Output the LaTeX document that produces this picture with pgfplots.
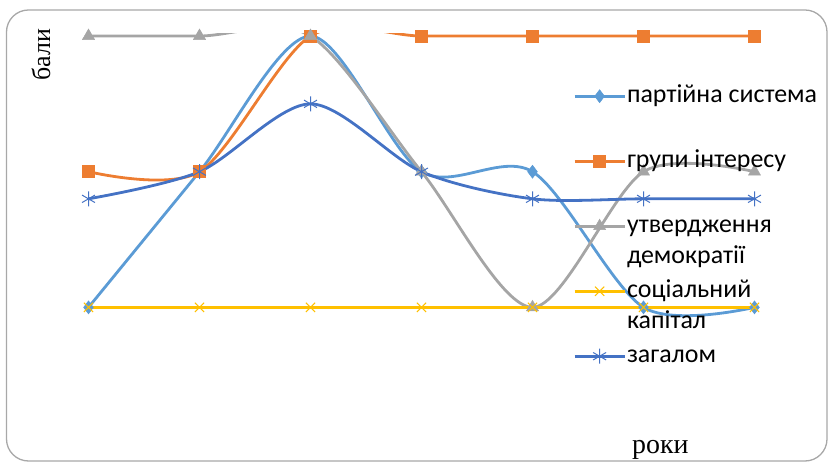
\documentclass[border=0pt]{standalone}
\usepackage{fontspec}
\setmainfont{Carlito}
\newfontfamily\serifcyr{Liberation Serif}
\usepackage{pgfplots}
\pgfplotsset{compat=1.18}
\definecolor{cA}{HTML}{5B9BD5}
\definecolor{cB}{HTML}{ED7D31}
\definecolor{cC}{HTML}{A5A5A5}
\definecolor{cD}{HTML}{FFC000}
\definecolor{cE}{HTML}{4472C4}
\definecolor{gridc}{HTML}{A8A8A8}
\pgfplotstableread{
x p g u s z
1 2 4 6 2 3.6
2 4 4 6 2 4
3 6 6 6 2 5
4 4 6 4 2 4
5 4 6 2 2 3.6
6 2 6 4 2 3.6
7 2 6 4 2 3.6
}\datatab
\newcommand{\legtext}[2]{\begin{tabular}[t]{@{}l@{}}#1\\#2\end{tabular}}
\begin{document}
\begin{tikzpicture}
\useasboundingbox (0,0) rectangle (831bp,464bp);
\draw[gridc, line width=1.3bp, rounded corners=22bp] (6.5bp,3bp) rectangle (827bp,454bp);
\begin{axis}[
  at={(33bp,21bp)}, anchor=south west,
  scale only axis, width=777bp, height=409bp,
  xmin=0.5, xmax=7.5, ymin=0, ymax=6.03,
  axis lines=none,
  xtick=\empty, ytick={0,1,2,3,4,5,6}, yticklabels={},
  tick style={draw=none},
  ymajorgrids, grid style={gridc, line width=1.3bp},
  every axis plot/.append style={smooth, tension=0.5, line width=2.8bp},
  legend style={draw=none, fill=none, at={(axis description cs:0.695,0.885)}, anchor=north west,
    font=\fontsize{26}{31}\selectfont, row sep=-1bp, inner sep=0pt,
    nodes={inner sep=1bp, anchor=base west, text height=20bp, text depth=44bp},
    /tikz/every even column/.append style={column sep=6bp}},
  legend cell align=left,
  legend image code/.code={\draw[mark repeat=2,mark phase=2, yshift=6bp] plot coordinates {(0bp,0bp) (25bp,0bp) (50bp,0bp)};},
]
\addplot[cA, mark=diamond*, mark size=6.5bp, mark options={solid, line width=0.5bp}] table[x=x,y=p] {\datatab};
\addlegendentry{\legtext{партійна система}{}}
\addplot[cB, mark=square*, mark size=6bp, mark options={solid, line width=0.5bp}] table[x=x,y=g] {\datatab};
\addlegendentry{\legtext{групи інтересу}{}}
\addplot[cC, mark=triangle*, mark size=7bp, mark options={solid, line width=0.5bp}] table[x=x,y=u] {\datatab};
\addlegendentry{\legtext{утвердження}{демократії}}
\addplot[cD, mark=x, mark size=6.5bp, mark options={solid, line width=1bp}] table[x=x,y=s] {\datatab};
\addlegendentry{\legtext{соціальний}{капітал}}
\addplot[cE, mark=asterisk, mark size=7.5bp, mark options={solid, line width=1bp}] table[x=x,y=z] {\datatab};
\addlegendentry{\legtext{загалом}{}}
\end{axis}
\node[rotate=90, anchor=base west, inner sep=0pt] at (50bp,383bp) {\serifcyr\fontsize{26}{26}\selectfont бали};
\node[anchor=base west, inner sep=0pt] at (632bp,11bp) {\serifcyr\fontsize{28}{28}\selectfont роки};
\end{tikzpicture}
\end{document}
